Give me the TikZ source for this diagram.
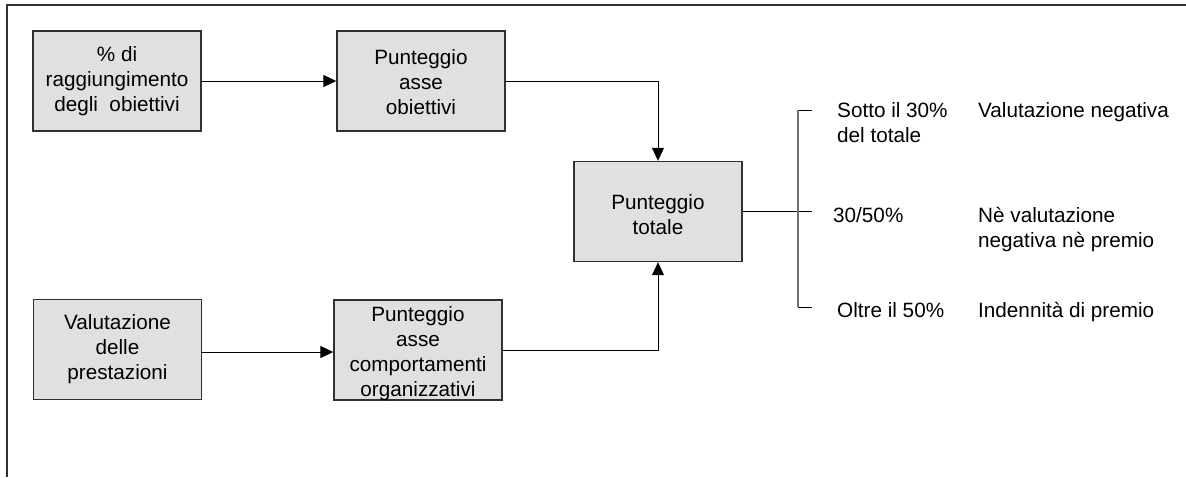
\documentclass[tikz,border=0pt]{standalone}
\usepackage{fontspec}
\setmainfont{Liberation Sans}
\usetikzlibrary{arrows.meta}
\definecolor{boxfill}{HTML}{E0E0E0}
\definecolor{boxline}{HTML}{303030}
\definecolor{bracketgray}{HTML}{707070}
\begin{document}
\begin{tikzpicture}[x=1pt,y=-1pt,
  box/.style={draw=boxline,line width=1.4pt,fill=boxfill,minimum width=168pt,minimum height=100pt,inner sep=0pt,align=center,font=\fontsize{20.7}{25}\selectfont},
  boxtext/.style={inner sep=0pt,align=center,font=\fontsize{20.7}{25}\selectfont},
  lbl/.style={anchor=base west,inner sep=0pt,font=\fontsize{20.7}{25}\selectfont},
  conn/.style={draw=black,line width=1pt},
  arr/.style={conn,-{Triangle[length=13pt,width=12pt]}},
  frame/.style={draw=boxline,line width=2pt}
]
\useasboundingbox (0,0) rectangle (1186,477);
% frame
\draw[frame] (1186,5) -- (7,5) -- (7,477);

% boxes
\node[box] (b1) at (117,81) {\% di\\raggiungimento\\degli\ \ obiettivi};
\node[box] (b2) at (421,81) {};
\node[boxtext] (t2) at ([yshift=-1pt]b2.center) {Punteggio\\asse\\obiettivi};
\node[box] (b3) at (658,211.5) {};
\node[boxtext] (t3) at ([yshift=-3pt]b3.center) {Punteggio\\totale};
\node[box] (b4) at (117.5,349.5) {Valutazione\\delle\\prestazioni};
\node[box] (b5) at (418,350) {};
\node[boxtext] (t5) at ([yshift=-4pt]b5.center) {Punteggio\\asse\\comportamenti\\organizzativi};

% connectors
\draw[arr] (b1.east) -- (b2.west);
\draw[arr] (b2.east) -| (b3.north);
\draw[arr] (b4.east |- 0,352) -- (b5.west |- 0,352);
\draw[arr] (b5.east) -| (b3.south);

% bracket
\coordinate (k1) at (812,110);
\coordinate (k2) at (812,211);
\coordinate (k3) at (812,307);
\coordinate (v1) at (798,110);
\coordinate (v3) at (798,307);
\draw[conn] (b3.east |- k2) -- (k2);
\draw[conn] (k1) -- (v1);
\draw[conn] (k3) -- (v3);
\draw[draw=bracketgray,line width=1.4pt] (v1) -- (v3);

% labels
\node[lbl] (l1a) at (837,117.5) {Sotto il 30\%};
\node[lbl] (l1b) at (837,142.5) {del totale};
\node[lbl] (r1) at (978,117.5) {Valutazione negativa};
\node[lbl] (l2) at (833,222) {30/50\%};
\node[lbl] (r2a) at (978,222) {Nè valutazione};
\node[lbl] (r2b) at (978,247) {negativa nè premio};
\node[lbl] (l3) at (837,317.5) {Oltre il 50\%};
\node[lbl] (r3) at (978,317.5) {Indennità di premio};
\end{tikzpicture}
\end{document}
